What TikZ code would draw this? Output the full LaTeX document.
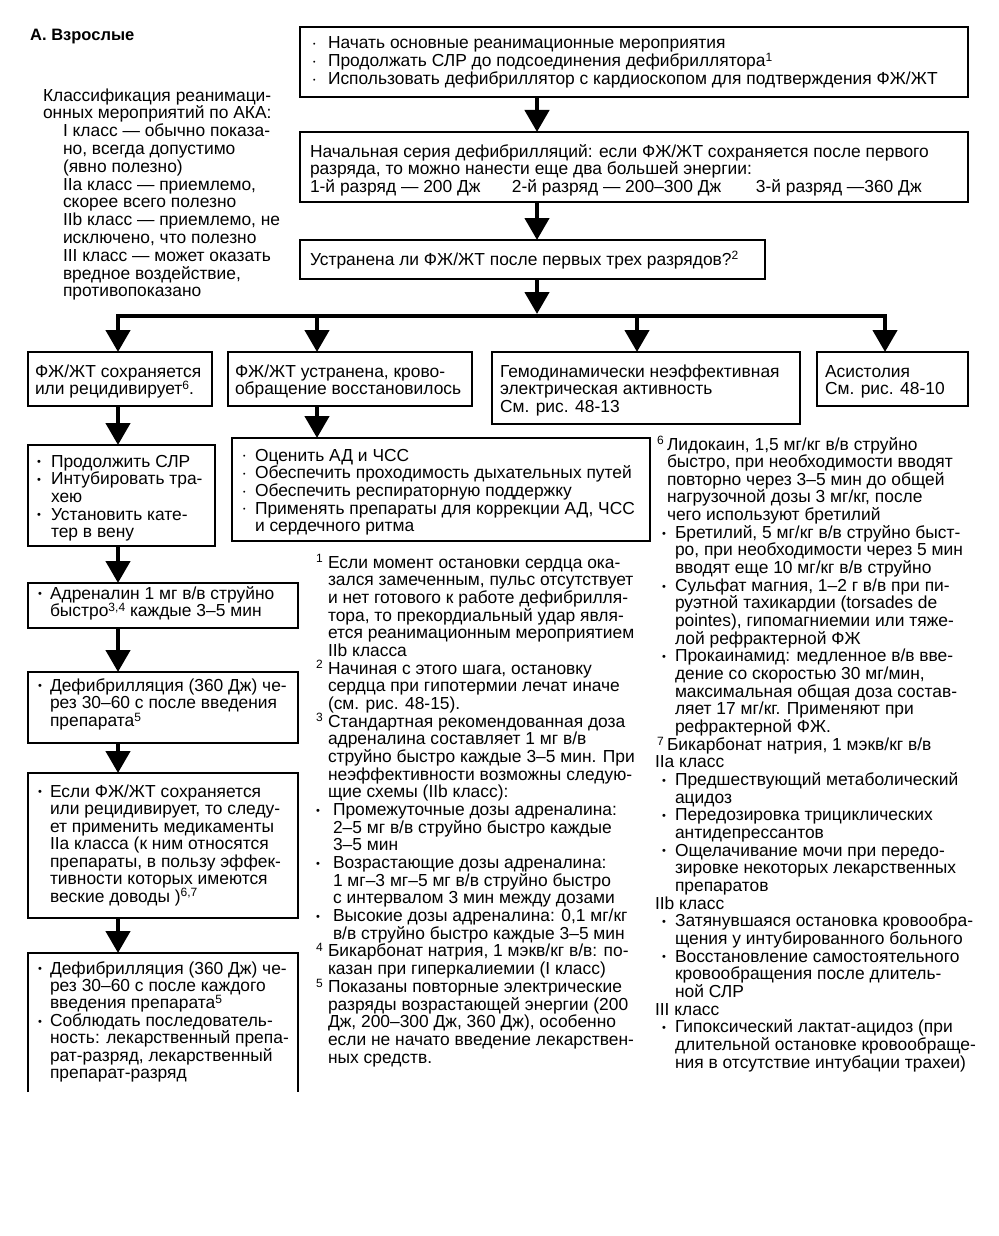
\documentclass[tikz,border=0pt]{standalone}
\usepackage{fontspec}
\setmainfont{Liberation Sans}
\usetikzlibrary{arrows.meta}
\newcommand\mybul{\raisebox{1.2pt}{\fontsize{11}{11}\selectfont •}}
\newcommand\mydot{\raisebox{2.2pt}{\fontsize{7}{7}\selectfont •}}
\newcommand\mysup[1]{\raisebox{5.2pt}{\fontsize{12}{12}\selectfont #1}}
\newcommand\myl[2]{\makebox[#1pt][l]{#2}}
\newcommand\myi[1]{\hspace*{#1pt}}
\tikzset{
  bx/.style={draw, line width=1.3pt, inner sep=0pt, outer sep=0pt},
  bxn/.style={inner sep=0pt, outer sep=0pt},
  txt/.style={anchor=north west, inner sep=0pt, outer sep=0pt, align=left},
  arr/.style={line width=4.5pt, -{Triangle[width=24pt,length=22pt]}},
  barline/.style={line width=4.5pt, line cap=rect},
  boxline/.style={line width=1.3pt}
}
\newcommand\mybox[6][bx]{\node[#1,minimum width={#5-#3},minimum height={#6-#4}] (#2) at ({(#3+#5)/2},{(#4+#6)/2}) {};}
\newcommand\mytxt[5]{\node[txt,font={\fontsize{17.4}{#4}\selectfont\lineskiplimit=-50pt}] (#1) at (#2,#3-16) {\rule{0pt}{16pt}#5};}
\begin{document}
\begin{tikzpicture}[x=1pt,y=-1pt]
\fill[white] (0,0) rectangle (998,1236);
\useasboundingbox (0,0) rectangle (998,1236);

% title and classification
\node[anchor=base west, inner sep=0pt, font=\fontsize{16.5}{18}\selectfont\bfseries] (title) at (30,41) {А. Взрослые};
\mytxt{cls}{43}{101}{17.8}{Классификация реанимаци-\\%
онных мероприятий по АКА:\\%
\myi{20}I класс — обычно показа-\\%
\myi{20}но, всегда допустимо\\%
\myi{20}(явно полезно)\\%
\myi{20}IIa класс — приемлемо,\\%
\myi{20}скорее всего полезно\\%
\myi{20}IIb класс — приемлемо, не\\%
\myi{20}исключено, что полезно\\%
\myi{20}III класс — может оказать\\%
\myi{20}вредное воздействие,\\%
\myi{20}противопоказано}

% top boxes
\mybox{s1}{300}{27}{968}{97}
\mytxt{ts1}{313}{49}{17.8}{\myl{15}{\mydot}Начать основные реанимационные мероприятия\\%
\myl{15}{\mydot}Продолжать СЛР до подсоединения дефибриллятора\mysup{1}\\%
\myl{15}{\mydot}Использовать дефибриллятор с кардиоскопом для подтверждения ФЖ/ЖТ}
\mybox{s2}{300}{132}{968}{202}
\mytxt{ts2}{310}{157}{17.8}{Начальная серия дефибрилляций: если ФЖ/ЖТ сохраняется после первого\\%
разряда, то можно нанести еще два большей энергии:\\%
\myl{202}{1-й разряд — 200 Дж}\myl{244}{2-й разряд — 200–300 Дж}3-й разряд —360 Дж}
\mybox{s3}{300}{240}{765}{279}
\mytxt{ts3}{310}{265}{17.8}{Устранена ли ФЖ/ЖТ после первых трех разрядов?\mysup{2}}

% row of outcomes
\mybox{a}{28}{352}{212}{406}
\mytxt{ta}{35}{377}{17.7}{ФЖ/ЖТ сохраняется\\или рецидивирует\mysup{6}.}
\mybox{b}{228}{352}{472}{406}
\mytxt{tb}{235}{377}{17.7}{ФЖ/ЖТ устранена, крово-\\обращение восстановилось}
\mybox{c}{492}{352}{800}{424}
\mytxt{tc}{500}{377}{17.7}{Гемодинамически неэффективная\\электрическая активность\\См. рис. 48-13}
\mybox{d}{817}{352}{968}{406}
\mytxt{td}{825}{377}{17.7}{Асистолия\\См. рис. 48-10}

% left column
\mybox{a2}{28}{445}{215}{546}
\mytxt{ta2}{37}{467}{17.7}{\myl{14}{\mybul}Продолжить СЛР\\%
\myl{14}{\mybul}Интубировать тра-\\%
\myi{14}хею\\%
\myl{14}{\mybul}Установить кате-\\%
\myi{14}тер в вену}
\mybox{a3}{28}{583}{298}{628}
\mytxt{ta3}{38}{599}{17.7}{\myl{12}{\mybul}Адреналин 1 мг в/в струйно\\%
\myi{12}быстро\mysup{3,4} каждые 3–5 мин}
\mybox{a4}{28}{672}{298}{743}
\mytxt{ta4}{38}{691}{17.7}{\myl{12}{\mybul}Дефибрилляция (360 Дж) че-\\%
\myi{12}рез 30–60 с после введения\\%
\myi{12}препарата\mysup{5}}
\mybox{a5}{28}{773}{298}{918}
\mytxt{ta5}{38}{797}{17.5}{\myl{12}{\mybul}Если ФЖ/ЖТ сохраняется\\%
\myi{12}или рецидивирует, то следу-\\%
\myi{12}ет применить медикаменты\\%
\myi{12}IIa класса (к ним относятся\\%
\myi{12}препараты, в пользу эффек-\\%
\myi{12}тивности которых имеются\\%
\myi{12}веские доводы )\mysup{6,7}}
\mybox[bxn]{a6}{28}{953}{298}{1092}
\draw[boxline] (a6.south west) -- (a6.north west) -- (a6.north east) -- (a6.south east);
\mytxt{ta6}{38}{974}{17.4}{\myl{12}{\mybul}Дефибрилляция (360 Дж) че-\\%
\myi{12}рез 30–60 с после каждого\\%
\myi{12}введения препарата\mysup{5}\\%
\myl{12}{\mybul}Соблюдать последователь-\\%
\myi{12}ность: лекарственный препа-\\%
\myi{12}рат-разряд, лекарственный\\%
\myi{12}препарат-разряд}

% middle column
\mybox{b2}{232}{438}{650}{541}
\mytxt{tb2}{243}{461}{17.7}{\myl{12}{\mydot}Оценить АД и ЧСС\\%
\myl{12}{\mydot}Обеспечить проходимость дыхательных путей\\%
\myl{12}{\mydot}Обеспечить респираторную поддержку\\%
\myl{12}{\mydot}Применять препараты для коррекции АД, ЧСС\\%
\myi{12}и сердечного ритма}

\mytxt{fnm}{316}{568}{17.68}{\myl{12}{\mysup{1}}Если момент остановки сердца ока-\\%
\myi{12}зался замеченным, пульс отсутствует\\%
\myi{12}и нет готового к работе дефибрилля-\\%
\myi{12}тора, то прекордиальный удар явля-\\%
\myi{12}ется реанимационным мероприятием\\%
\myi{12}IIb класса\\%
\myl{12}{\mysup{2}}Начиная с этого шага, остановку\\%
\myi{12}сердца при гипотермии лечат иначе\\%
\myi{12}(см. рис. 48-15).\\%
\myl{12}{\mysup{3}}Стандартная рекомендованная доза\\%
\myi{12}адреналина составляет 1 мг в/в\\%
\myi{12}струйно быстро каждые 3–5 мин. При\\%
\myi{12}неэффективности возможны следую-\\%
\myi{12}щие схемы (IIb класс):\\%
\myl{17}{\mybul}Промежуточные дозы адреналина:\\%
\myi{17}2–5 мг в/в струйно быстро каждые\\%
\myi{17}3–5 мин\\%
\myl{17}{\mybul}Возрастающие дозы адреналина:\\%
\myi{17}1 мг–3 мг–5 мг в/в струйно быстро\\%
\myi{17}с интервалом 3 мин между дозами\\%
\myl{17}{\mybul}Высокие дозы адреналина: 0,1 мг/кг\\%
\myi{17}в/в струйно быстро каждые 3–5 мин\\%
\myl{12}{\mysup{4}}Бикарбонат натрия, 1 мэкв/кг в/в: по-\\%
\myi{12}казан при гиперкалиемии (I класс)\\%
\myl{12}{\mysup{5}}Показаны повторные электрические\\%
\myi{12}разряды возрастающей энергии (200\\%
\myi{12}Дж, 200–300 Дж, 360 Дж), особенно\\%
\myi{12}если не начато введение лекарствен-\\%
\myi{12}ных средств.}

% right column
\mytxt{fnr}{655}{450}{17.66}{\myi{2}\myl{10}{\mysup{6}}Лидокаин, 1,5 мг/кг в/в струйно\\%
\myi{12}быстро, при необходимости вводят\\%
\myi{12}повторно через 3–5 мин до общей\\%
\myi{12}нагрузочной дозы 3 мг/кг, после\\%
\myi{12}чего используют бретилий\\%
\myi{7}\myl{13}{\mybul}Бретилий, 5 мг/кг в/в струйно быст-\\%
\myi{20}ро, при необходимости через 5 мин\\%
\myi{20}вводят еще 10 мг/кг в/в струйно\\%
\myi{7}\myl{13}{\mybul}Сульфат магния, 1–2 г в/в при пи-\\%
\myi{20}руэтной тахикардии (torsades de\\%
\myi{20}pointes), гипомагниемии или тяже-\\%
\myi{20}лой рефрактерной ФЖ\\%
\myi{7}\myl{13}{\mybul}Прокаинамид: медленное в/в вве-\\%
\myi{20}дение со скоростью 30 мг/мин,\\%
\myi{20}максимальная общая доза состав-\\%
\myi{20}ляет 17 мг/кг. Применяют при\\%
\myi{20}рефрактерной ФЖ.\\%
\myi{2}\myl{10}{\mysup{7}}Бикарбонат натрия, 1 мэкв/кг в/в\\%
IIa класс\\%
\myi{7}\myl{13}{\mybul}Предшествующий метаболический\\%
\myi{20}ацидоз\\%
\myi{7}\myl{13}{\mybul}Передозировка трициклических\\%
\myi{20}антидепрессантов\\%
\myi{7}\myl{13}{\mybul}Ощелачивание мочи при передо-\\%
\myi{20}зировке некоторых лекарственных\\%
\myi{20}препаратов\\%
IIb класс\\%
\myi{7}\myl{13}{\mybul}Затянувшаяся остановка кровообра-\\%
\myi{20}щения у интубированного больного\\%
\myi{7}\myl{13}{\mybul}Восстановление самостоятельного\\%
\myi{20}кровообращения после длитель-\\%
\myi{20}ной СЛР\\%
III класс\\%
\myi{7}\myl{13}{\mybul}Гипоксический лактат-ацидоз (при\\%
\myi{20}длительной остановке кровообраще-\\%
\myi{20}ния в отсутствие интубации трахеи)}

% connectors
\coordinate (cx) at (537,0);
\coordinate (lx) at (118,0);
\coordinate (mx) at (317,0);
\coordinate (barl) at (118,316);
\coordinate (barr) at (885,316);
\coordinate (barb) at (317,316);
\coordinate (barc) at (637,316);
\coordinate (bartop) at (537,314);
\draw[arr] (cx |- s1.south) -- (cx |- s2.north);
\draw[arr] (cx |- s2.south) -- (cx |- s3.north);
\draw[arr] (cx |- s3.south) -- (bartop);
\draw[barline] (barl) -- (barr);
\draw[arr] (barl) -- (barl |- a.north);
\draw[arr] (barb) -- (barb |- b.north);
\draw[arr] (barc) -- (barc |- c.north);
\draw[arr] (barr) -- (barr |- d.north);
\draw[arr] (lx |- a.south) -- (lx |- a2.north);
\draw[arr] (mx |- b.south) -- (mx |- b2.north);
\draw[arr] (lx |- a2.south) -- (lx |- a3.north);
\draw[arr] (lx |- a3.south) -- (lx |- a4.north);
\draw[arr] (lx |- a4.south) -- (lx |- a5.north);
\draw[arr] (lx |- a5.south) -- (lx |- a6.north);
\end{tikzpicture}
\end{document}
